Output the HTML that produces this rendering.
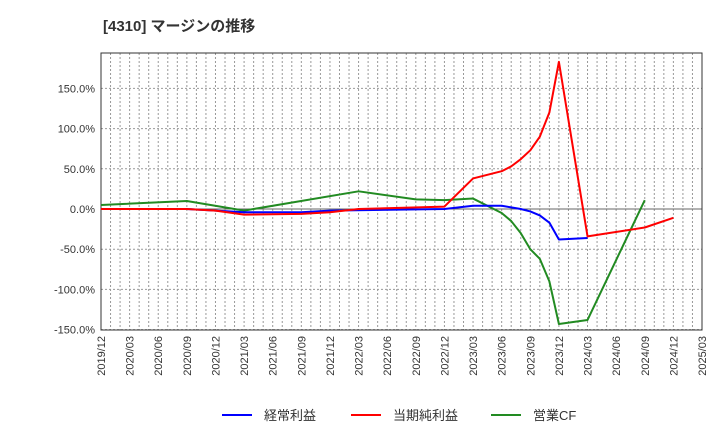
<!DOCTYPE html>
<html><head><meta charset="utf-8"><style>
body{margin:0;background:#fff;font-family:"Liberation Sans","Noto Sans CJK JP",sans-serif}
</style></head><body>
<svg id="c" width="720" height="440" xmlns="http://www.w3.org/2000/svg">
<text x="103" y="31" font-size="15" font-weight="bold" fill="#333" font-family="Liberation Sans, Noto Sans CJK JP, sans-serif">[4310]  マージンの推移</text>
</svg>
<script>
const xTickLabels=["2019/12","2020/03","2020/06","2020/09","2020/12","2021/03","2021/06","2021/09","2021/12","2022/03","2022/06","2022/09","2022/12","2023/03","2023/06","2023/09","2023/12","2024/03","2024/06","2024/09","2024/12","2025/03"];
const yTicks=[150,100,50,0,-50,-100,-150];
const blueMonths=[0,9,15,21,24,36,39,42,43,44,45,46,47,48,51];
const blueVals=[0,0,-4,-4,-2,0,4,4,2,0,-3,-8,-17,-38,-36];
const redMonths=[0,9,12,15,21,24,27,36,39,42,43,44,45,46,47,48,51,57,60];
const redVals=[0,0,-2,-7,-6,-4,0,3,38,47,53,62,73,90,120,183,-34,-23,-11];
const greenMonths=[0,9,15,27,33,36,39,42,43,44,45,46,47,48,51,57];
const greenVals=[5,10,-2,22,12,11,13,-5,-15,-30,-50,-62,-90,-143,-138,11];
const L=101,R=702,T=53,B=330;
const X=m=>L+(R-L)*m/63;
const Y=v=>209-v*40.2/50;
const svg=document.getElementById('c');
const NS='http://www.w3.org/2000/svg';
function mk(t,a){const e=document.createElementNS(NS,t);for(const k in a)e.setAttribute(k,a[k]);svg.appendChild(e);return e;}
for(let m=1;m<63;m++){const e=mk('line',{x1:X(m),x2:X(m),y1:T,y2:B,stroke:'#999','stroke-dasharray':'2,2','stroke-width':1});

}
yTicks.forEach(v=>{const e=mk('line',{x1:L,x2:R,y1:Y(v),y2:Y(v),stroke:v===0?'#666':'#999','stroke-dasharray':v===0?'':'2,2','stroke-width':1});


const t=mk('text',{x:L-6,y:Y(v)+4,'text-anchor':'end','font-size':11,fill:'#333'});t.textContent=v.toFixed(1)+'%';

});
const fr=mk('rect',{x:L,y:T,width:R-L,height:B-T,fill:'none',stroke:'#333','stroke-width':1});


xTickLabels.forEach((s,i)=>{const x=X(i*3);const t=mk('text',{x:x+4,y:B+6,'text-anchor':'end','font-size':11,fill:'#333',transform:`rotate(-90 ${x+4} ${B+6})`});t.textContent=s;

});
function line(ms,vs,c,n){const p=mk('polyline',{points:ms.map((m,i)=>X(m)+','+Y(vs[i])).join(' '),fill:'none',stroke:c,'stroke-width':2,'stroke-linejoin':'round'});

}
line(greenMonths,greenVals,'#228B22','series-operating-cf');
line(blueMonths,blueVals,'#0000ff','series-ordinary-margin');
line(redMonths,redVals,'#ff0000','series-net-margin');
[['経常利益','#0000ff',222],['当期純利益','#ff0000',351],['営業CF','#228B22',491]].forEach(([s,c,x])=>{
const l=mk('line',{x1:x,x2:x+30,y1:415,y2:415,stroke:c,'stroke-width':2});


const t=mk('text',{x:x+42,y:420,'font-size':13,fill:'#333'});t.textContent=s;

});
</script>
</body></html>
